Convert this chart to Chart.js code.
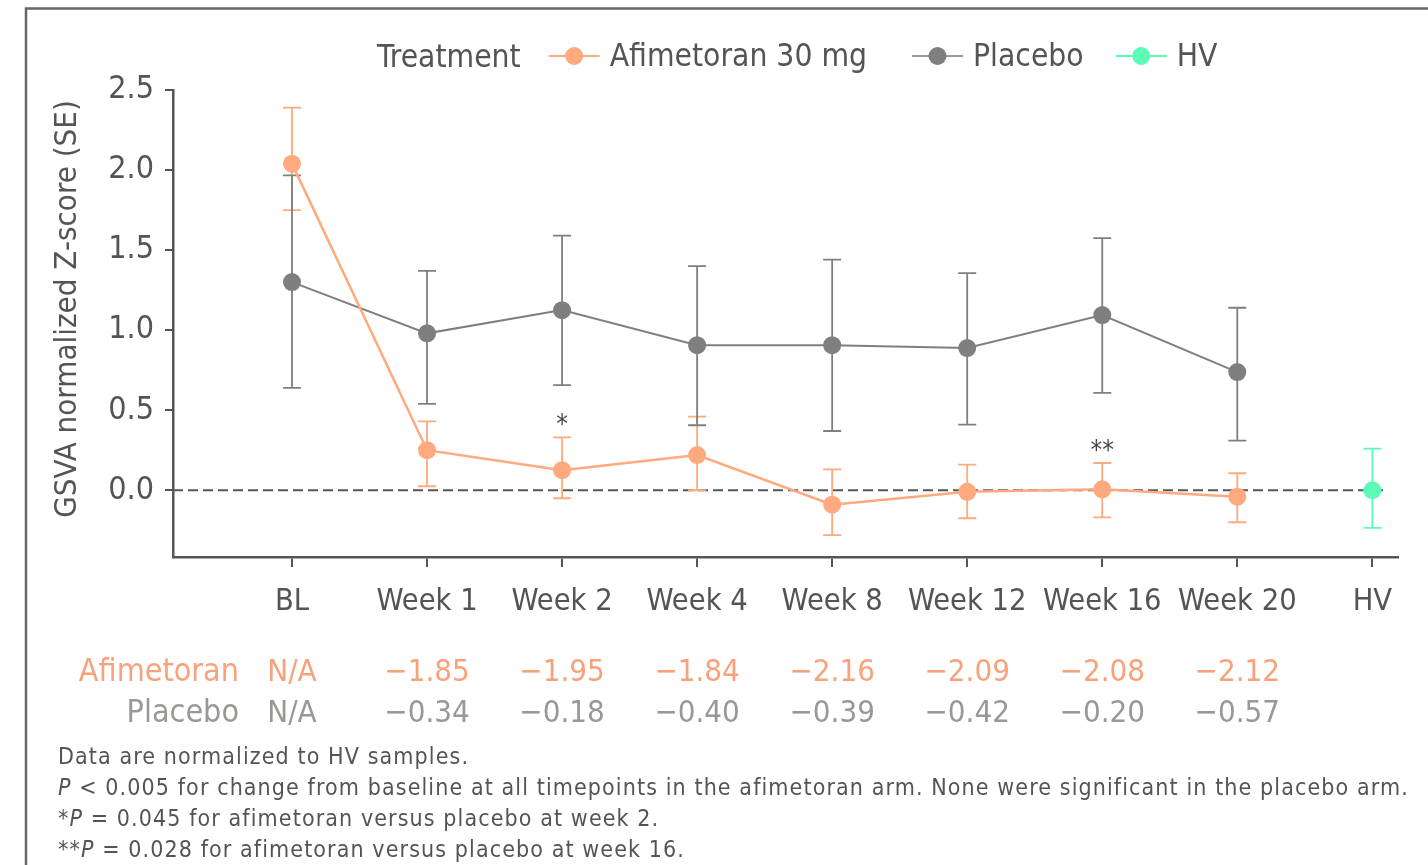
<!DOCTYPE html>
<html>
<head>
<meta charset="utf-8">
<script src="https://cdn.jsdelivr.net/npm/chart.js@4.4.1/dist/chart.umd.min.js"></script>
<style>
  html, body { margin: 0; padding: 0; background: #fff; }
  #zone { width: 1428px; height: 865px; }
</style>
</head>
<body>
<div id="zone"><canvas id="graphique" width="1428" height="865"></canvas></div>
<script>
// Données
const categories = ['BL', 'Week 1', 'Week 2', 'Week 4', 'Week 8', 'Week 12', 'Week 16', 'Week 20', 'HV'];
const yTicks = [0, 0.5, 1.0, 1.5, 2.0, 2.5];

const afimetoranMoy = [2.04, 0.25, 0.125, 0.22, -0.09, -0.01, 0.006, -0.04];
const afimetoranHaut = [2.39, 0.43, 0.33, 0.46, 0.13, 0.16, 0.17, 0.106];
const afimetoranBas = [1.75, 0.025, -0.05, 0.0, -0.28, -0.175, -0.17, -0.2];

const placeboMoy = [1.30, 0.98, 1.125, 0.906, 0.906, 0.888, 1.094, 0.738];
const placeboHaut = [1.967, 1.37, 1.59, 1.40, 1.44, 1.356, 1.575, 1.14];
const placeboBas = [0.64, 0.54, 0.656, 0.406, 0.37, 0.41, 0.608, 0.31];

const hvMoy = [0.0];
const hvHaut = [0.26];
const hvBas = [-0.235];

const signif = ['', '', '*', '', '', '', '**', ''];

const afimetoranVariation = ['N/A', '\u22121.85', '\u22121.95', '\u22121.84', '\u22122.16', '\u22122.09', '\u22122.08', '\u22122.12'];
const placeboVariation = ['N/A', '\u22120.34', '\u22120.18', '\u22120.40', '\u22120.39', '\u22120.42', '\u22120.20', '\u22120.57'];

const notes = [
    [['Data are normalized to HV samples.', false]],
    [['P', true], [' < 0.005 for change from baseline at all timepoints in the afimetoran arm. None were significant in the placebo arm.', false]],
    [['*', false], ['P', true], [' = 0.045 for afimetoran versus placebo at week 2.', false]],
    [['**', false], ['P', true], [' = 0.028 for afimetoran versus placebo at week 16.', false]]
];

const ORANGE = '#ffa97e';
const ORANGE_TEXTE = '#f7a27b';
const GRIS = '#7f7f7f';
const GRIS_TEXTE = '#9b9795';
const VERT = '#5cfcb8';
const TEXTE = '#575353';
const POLICE = '"DejaVu Sans Condensed", "DejaVu Sans", sans-serif';

// position x = index de la catégorie
const versPoints = (valeurs, debut) => valeurs.map((v, i) => ({ x: i + debut, y: v }));

const barresErreur = [
    { haut: afimetoranHaut, bas: afimetoranBas, debut: 0, couleur: ORANGE },
    { haut: placeboHaut, bas: placeboBas, debut: 0, couleur: GRIS },
    { haut: hvHaut, bas: hvBas, debut: 8, couleur: VERT }
];

function texteSegments(ctx, segments, x, y, taille) {
    let pos = x;
    segments.forEach(([t, italique]) => {
        ctx.font = (italique ? 'italic ' : '') + taille + 'px ' + POLICE;
        ctx.fillText(t, pos, y);
        pos += ctx.measureText(t).width;
    });
}

const decorations = {
    id: 'decorations',
    beforeDraw(chart) {
        const ctx = chart.ctx;
        ctx.save();
        ctx.fillStyle = '#fff';
        ctx.fillRect(0, 0, chart.width, chart.height);
        // cadre (haut et gauche)
        ctx.strokeStyle = '#6b6564';
        ctx.lineWidth = 2.5;
        ctx.beginPath();
        ctx.moveTo(26, chart.height);
        ctx.lineTo(26, 8.5);
        ctx.lineTo(chart.width, 8.5);
        ctx.stroke();
        ctx.restore();
    },
    beforeDatasetsDraw(chart) {
        const ctx = chart.ctx;
        const xs = chart.scales.x;
        const ys = chart.scales.y;
        ctx.save();
        // ligne de référence à zéro
        ctx.strokeStyle = '#555';
        ctx.lineWidth = 2;
        ctx.setLineDash([10, 5]);
        ctx.beginPath();
        ctx.moveTo(chart.chartArea.left, ys.getPixelForValue(0));
        ctx.lineTo(xs.getPixelForValue(categories.length - 1) + 11, ys.getPixelForValue(0));
        ctx.stroke();
        ctx.setLineDash([]);
        // barres d'erreur
        barresErreur.forEach(b => {
            ctx.strokeStyle = b.couleur;
            ctx.lineWidth = 1.8;
            b.haut.forEach((h, i) => {
                const x = xs.getPixelForValue(i + b.debut);
                const y1 = ys.getPixelForValue(h);
                const y2 = ys.getPixelForValue(b.bas[i]);
                ctx.beginPath();
                ctx.moveTo(x, y1); ctx.lineTo(x, y2);
                ctx.moveTo(x - 9, y1); ctx.lineTo(x + 9, y1);
                ctx.moveTo(x - 9, y2); ctx.lineTo(x + 9, y2);
                ctx.stroke();
            });
        });
        ctx.restore();
    },
    afterDraw(chart) {
        const ctx = chart.ctx;
        const xs = chart.scales.x;
        const ys = chart.scales.y;
        ctx.save();
        ctx.textBaseline = 'middle';

        // titre de l'axe y
        ctx.save();
        ctx.translate(68, 309);
        ctx.rotate(-Math.PI / 2);
        ctx.textAlign = 'center';
        ctx.fillStyle = TEXTE;
        ctx.font = '31px ' + POLICE;
        ctx.fillText('GSVA normalized Z-score (SE)', 0, 0);
        ctx.restore();

        // légende
        ctx.font = '31.5px ' + POLICE;
        ctx.fillStyle = TEXTE;
        ctx.textAlign = 'left';
        let x = 377;
        const yLeg = 58;
        ctx.fillText('Treatment', x, yLeg + 1);
        x += ctx.measureText('Treatment').width + 28;
        chart.data.datasets.forEach((ds, k) => {
            ctx.strokeStyle = ds.legendeLigne;
            ctx.lineWidth = 2;
            ctx.beginPath();
            ctx.moveTo(x, yLeg - 2); ctx.lineTo(x + 51, yLeg - 2);
            ctx.stroke();
            ctx.fillStyle = ds.pointBackgroundColor;
            ctx.beginPath();
            ctx.arc(x + 25.5, yLeg - 2, 9, 0, Math.PI * 2);
            ctx.fill();
            x += 61;
            ctx.fillStyle = TEXTE;
            ctx.fillText(ds.label, x, yLeg);
            x += ctx.measureText(ds.label).width + (k === 0 ? 45 : 32);
        });

        // astérisques
        ctx.textAlign = 'center';
        ctx.fillStyle = '#4a4646';
        ctx.font = '26px ' + POLICE;
        signif.forEach((s, i) => {
            if (s) ctx.fillText(s, xs.getPixelForValue(i), ys.getPixelForValue(afimetoranHaut[i]) - 11);
        });

        // tableau des variations
        ctx.font = '32px ' + POLICE;
        ctx.textAlign = 'right';
        ctx.fillStyle = ORANGE_TEXTE;
        ctx.fillText('Afimetoran', 239, 673);
        ctx.fillStyle = GRIS_TEXTE;
        ctx.fillText('Placebo', 239, 714);
        ctx.font = '31px ' + POLICE;
        ctx.textAlign = 'center';
        afimetoranVariation.forEach((t, i) => {
            ctx.fillStyle = ORANGE_TEXTE;
            ctx.fillText(t, xs.getPixelForValue(i), 673);
            ctx.fillStyle = GRIS_TEXTE;
            ctx.fillText(placeboVariation[i], xs.getPixelForValue(i), 714);
        });

        // notes de bas de figure
        ctx.textAlign = 'left';
        ctx.fillStyle = TEXTE;
        ctx.letterSpacing = '1.1px';
        notes.forEach((segments, i) => texteSegments(ctx, segments, 58, 758 + i * 31, 23));
        ctx.letterSpacing = '0px';
        ctx.restore();
    }
};

new Chart(document.getElementById('graphique'), {
    type: 'line',
    data: {
        datasets: [
            {
                label: 'Afimetoran 30 mg',
                data: versPoints(afimetoranMoy, 0),
                borderColor: ORANGE,
                legendeLigne: ORANGE,
                pointBackgroundColor: ORANGE,
                pointBorderWidth: 0,
                pointRadius: 9,
                borderWidth: 2.5,
                order: 1
            },
            {
                label: 'Placebo',
                data: versPoints(placeboMoy, 0),
                borderColor: GRIS,
                legendeLigne: '#999',
                pointBackgroundColor: GRIS,
                pointBorderWidth: 0,
                pointRadius: 9,
                borderWidth: 2,
                order: 2
            },
            {
                label: 'HV',
                data: versPoints(hvMoy, 8),
                borderColor: VERT,
                legendeLigne: VERT,
                pointBackgroundColor: VERT,
                pointBorderWidth: 0,
                pointRadius: 9,
                borderWidth: 2,
                order: 0
            }
        ]
    },
    options: {
        responsive: false,
        animation: false,
        layout: { padding: { left: 0, right: 30, top: 90, bottom: 228 } },
        plugins: {
            legend: { display: false },
            tooltip: { enabled: false }
        },
        scales: {
            x: {
                type: 'linear',
                min: -0.881,
                max: 8.19,
                afterBuildTicks: s => { s.ticks = categories.map((_, i) => ({ value: i })); },
                afterFit: s => { s.height = 80; },
                ticks: {
                    callback: v => categories[v],
                    color: TEXTE,
                    font: { family: POLICE, size: 30.5 },
                    padding: 17,
                    maxRotation: 0,
                    autoSkip: false
                },
                grid: { drawOnChartArea: false, drawTicks: true, tickLength: 10, color: '#555', lineWidth: 2 },
                border: { display: true, color: '#555', width: 2.5 }
            },
            y: {
                type: 'linear',
                min: -0.417,
                max: 2.5,
                afterBuildTicks: s => { s.ticks = yTicks.map(v => ({ value: v })); },
                afterFit: s => { s.width = 173; },
                ticks: {
                    callback: v => v.toFixed(1),
                    color: TEXTE,
                    font: { family: POLICE, size: 32 },
                    padding: 11
                },
                grid: { drawOnChartArea: false, drawTicks: true, tickLength: 8, color: '#555', lineWidth: 2 },
                border: { display: true, color: '#555', width: 2.5 }
            }
        }
    },
    plugins: [decorations]
});
</script>
</body>
</html>
